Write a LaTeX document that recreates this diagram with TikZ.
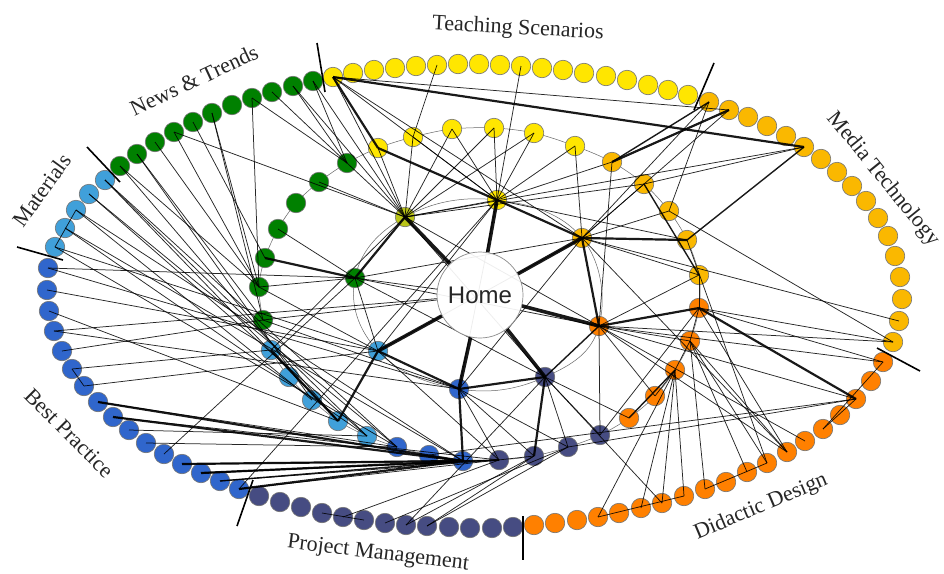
\documentclass[tikz,border=0pt]{standalone}
\usepackage{fontspec}
\setmainfont{Liberation Serif}
\newfontfamily\homefont{Liberation Sans}
\definecolor{cT}{RGB}{255,230,0}
\definecolor{cTo}{RGB}{186,196,24}
\definecolor{cM}{RGB}{250,184,0}
\definecolor{cD}{RGB}{255,128,0}
\definecolor{cP}{RGB}{70,76,130}
\definecolor{cB}{RGB}{48,102,204}
\definecolor{cL}{RGB}{64,160,218}
\definecolor{cN}{RGB}{0,128,0}
\tikzset{
  onode/.style={circle, minimum size=19.5pt, inner sep=0pt, draw=black!55, line width=0.6pt},
  lnk/.style={line width=0.75pt, black, opacity=0.85},
  lnkm/.style={line width=1.4pt, black, opacity=0.9},
  lnkb/.style={line width=2.2pt, black, opacity=0.9},
  lnkh/.style={line width=3.6pt, black, opacity=0.9},
  divider/.style={line width=1.6pt, black},
  ringline/.style={line width=0.5pt, black!60},
  lab/.style={font=\fontsize{22}{26}\selectfont, text=black!85, inner sep=0pt},
}
\begin{document}
\begin{tikzpicture}[x=1pt,y=-1pt]
\useasboundingbox (0,0) rectangle (944,573);
\fill[white] (0,0) rectangle (944,573);

% ---------- outer ring ----------
\foreach \i/\x/\y in {1/333/77,2/353/73,3/374/70,4/395/68,5/416/66,6/437/65,7/458/64,8/479/64,9/500/65,10/521/66,11/542/68,12/563/70,13/584/73,14/606/76,15/627/80,16/648/85,17/668/90,18/688/95}
  \node[onode, fill=cT] (T\i) at (\x,\y) {};
\foreach \i/\x/\y in {1/709/102,2/729/110,3/748/117,4/767/126,5/786/136,6/804/147,7/821/159,8/837/172,9/852/186,10/866/201,11/878/218,12/888/236,13/895/256,14/900/277,15/902/299,16/899/321,17/893/342}
  \node[onode, fill=cM] (M\i) at (\x,\y) {};
\foreach \i/\x/\y in {1/883/362,2/871/381,3/856/399,4/840/415,5/823/429,6/805/441,7/787/452,8/767/463,9/747/472,10/726/482,11/705/489,12/684/496,13/662/503,14/641/508,15/619/513,16/598/517,17/577/520,18/555/523,19/534/525}
  \node[onode, fill=cD] (D\i) at (\x,\y) {};
\foreach \i/\x/\y in {1/513/527,2/492/528,3/470/528,4/449/527,5/427/526,6/406/525,7/385/523,8/364/520,9/343/517,10/322/513,11/301/507,12/280/502,13/259/496}
  \node[onode, fill=cP] (P\i) at (\x,\y) {};
\foreach \i/\x/\y in {1/239/489,2/220/481,3/201/473,4/182/464,5/164/454,6/146/443,7/129/430,8/113/417,9/98/402,10/84/386,11/72/369,12/62/351,13/54/331,14/49/311,15/47/290,16/48/268}
  \node[onode, fill=cB] (B\i) at (\x,\y) {};
\foreach \i/\x/\y in {1/55/247,2/65/228,3/76/210,4/89/194,5/105/180}
  \node[onode, fill=cL] (L\i) at (\x,\y) {};
\foreach \i/\x/\y in {1/120/166,2/137/154,3/155/142,4/174/132,5/193/122,6/212/113,7/232/105,8/252/98,9/272/92,10/293/86,11/313/81}
  \node[onode, fill=cN] (N\i) at (\x,\y) {};

% ---------- inner ring ----------
\foreach \i/\x/\y in {1/378/148,2/413/137,3/452/129,4/494/128,5/534/133,6/575/146}
  \coordinate (t\i) at (\x,\y);
\foreach \i/\x/\y in {1/612/162,2/644/184,3/669/211,4/687/240,5/699/275}
  \coordinate (m\i) at (\x,\y);
\foreach \i/\x/\y in {1/699/308,2/690/341,3/675/370,4/655/396,5/629/418}
  \coordinate (d\i) at (\x,\y);
\foreach \i/\x/\y in {1/600/435,2/568/447,3/534/456,4/499/460}
  \coordinate (p\i) at (\x,\y);
\foreach \i/\x/\y in {1/463/461,2/429/455,3/397/447}
  \coordinate (b\i) at (\x,\y);
\foreach \i/\x/\y in {1/367/436,2/338/421,3/312/400,4/289/377,5/271/350}
  \coordinate (l\i) at (\x,\y);
\foreach \i/\x/\y in {1/263/320,2/259/287,3/265/258,4/278/229,5/296/203,6/319/182,7/347/163}
  \coordinate (n\i) at (\x,\y);
% hubs
\coordinate (h1) at (405,217);
\coordinate (h2) at (497,200);
\coordinate (h3) at (582,238);
\coordinate (h4) at (599,326);
\coordinate (h5) at (545,377);
\coordinate (h6) at (459,389);
\coordinate (h7) at (378,351);
\coordinate (h8) at (355,278);

\draw[ringline] plot[smooth cycle, tension=0.55] coordinates {(t1) (t2) (t3) (t4) (t5) (t6) (m1) (m2) (m3) (m4) (m5) (d1) (d2) (d3) (d4) (d5) (p1) (p2) (p3) (p4) (b1) (b2) (b3) (l1) (l2) (l3) (l4) (l5) (n1) (n2) (n3) (n4) (n5) (n6) (n7)};
\draw[ringline] plot[smooth cycle, tension=0.7] coordinates {(h1) (h2) (h3) (h4) (h5) (h6) (h7) (h8)};

\foreach \i in {1,...,6} \node[onode, fill=cT] (tn\i) at (t\i) {};
\foreach \i in {1,...,5} \node[onode, fill=cM] (mn\i) at (m\i) {};
\foreach \i in {1,...,5} \node[onode, fill=cD] (dn\i) at (d\i) {};
\foreach \i in {1,...,4} \node[onode, fill=cP] (pn\i) at (p\i) {};
\foreach \i in {1,...,3} \node[onode, fill=cB] (bn\i) at (b\i) {};
\foreach \i in {1,...,5} \node[onode, fill=cL] (ln\i) at (l\i) {};
\foreach \i in {1,...,7} \node[onode, fill=cN] (nn\i) at (n\i) {};
\node[onode, fill=cTo] (hub1) at (h1) {};
\node[onode, fill=cT] (hub2) at (h2) {};
\node[onode, fill=cM] (hub3) at (h3) {};
\node[onode, fill=cD] (hub4) at (h4) {};
\node[onode, fill=cP] (hub5) at (h5) {};
\node[onode, fill=cB] (hub6) at (h6) {};
\node[onode, fill=cL] (hub7) at (h7) {};
\node[onode, fill=cN] (hub8) at (h8) {};

\node[circle, minimum size=86pt, inner sep=0pt] (home) at (480,295) {};

% ---------- connectors ----------
\foreach \a/\b in {T1/h1,T1/h2,T1/h3,T1/M2,T6/t2,T10/h2,t1/h1,t2/h2,t2/h1,t3/h1,t3/h2,t4/h2,t4/h1,t5/h1,t5/h2,t6/h2,t6/h3,
  M1/m3,M1/h3,M2/h3,M6/h1,M6/m2,m1/h4,m1/h2,m2/h3,m2/h1,m3/M17,m3/h3,m4/h2,m5/h3,m5/h4,m5/d1,M17/d1,M17/h4,m4/D8,h3/D7,M16/h3,
  D1/D5,D1/d1,D1/h4,D3/h4,D3/p2,D3/b2,D7/d1,D7/d2,D7/h4,D8/d2,D8/D11,D11/d2,D12/d3,D13/d3,D13/h5,D14/d3,D16/d3,D16/D12,D5/D3,d1/d2,d2/d3,d3/d4,d2/h4,d1/p1,d4/h4,d5/h5,D9/d2,D6/h4,
  P8/P10,P6/p3,P5/p3,P5/p2,P9/p4,P6/h5,p1/h5,p1/h4,p2/h5,p4/h6,p4/b1,p3/h6,P7/p2,
  B1/h2,B1/p3,B2/p4,B5/h8,B10/B11,B10/h7,B12/n1,B16/h8,B16/h6,B7/l1,B6/b3,B11/l5,B9/b3,B8/p4,B14/l2,B4/p4,B15/h7,B13/h6,
  L1/L3,L1/b3,L2/l1,L3/l3,L4/b3,L5/l2,L5/b3,L4/l1,L2/b1,L5/l1,L3/b1,L1/h7,
  N1/n2,N3/n2,N4/n2,N4/h1,N6/n2,N6/n1,N8/n2,N8/n7,N10/n7,N11/n7,N10/h1,N11/h1,N9/n7,N1/l2,N2/l3,N5/n3,N2/n1,
  n7/h1,n2/h8,n2/h7,l5/h1,n4/h8,n6/h1,n1/h6,
  h1/h2,h1/h4,h7/h3,h2/h7,h8/h5,h6/h3,h1/h5,h8/h4,h8/h7,h7/p4,h6/p2,h2/h6,h8/h3}
  \draw[lnk] (\a.center) -- (\b.center);
\foreach \a/\b in {M6/m4,m2/m5,B2/b1,B3/p4,d3/d5,M1/m1,h4/h5}
  \draw[lnkm] (\a.center) -- (\b.center);
\foreach \a/\b in {T1/M6,T1/t1,t1/h2,h2/h3,M2/m1,m4/h3,h3/h4,h4/d1,d1/D3,h5/p3,h5/h6,h6/b1,h7/h6,h7/l2,l5/l2,n3/h8,h1/h8,B9/b1,B8/b1,B4/b1,B3/b1,B1/b1}
  \draw[lnkb] (\a.center) -- (\b.center);
\foreach \a in {h1,h2,h3,h4,h5,h6,h7}
  \draw[lnkh] (\a.center) -- (home);
\foreach \a in {B13,n1,h8}
  \draw[lnk] (\a.center) -- (home);

\node[circle, minimum size=86pt, inner sep=0pt, draw=black!45, line width=0.7pt, fill=white, fill opacity=0.92, text opacity=1, text=black!85, font=\homefont\fontsize{24}{28}\selectfont] (homevis) at (home.center) {Home};

% ---------- dividers ----------
\coordinate (v1a) at (63,260);  \coordinate (v1b) at (17,247);
\coordinate (v2a) at (120,182); \coordinate (v2b) at (87,147);
\coordinate (v3a) at (325,92);  \coordinate (v3b) at (317,43);
\coordinate (v4a) at (694,110); \coordinate (v4b) at (714,63);
\coordinate (v5a) at (877,348); \coordinate (v5b) at (920,371);
\coordinate (v6a) at (523,516); \coordinate (v6b) at (523,560);
\coordinate (v7a) at (253,480); \coordinate (v7b) at (237,526);
\foreach \k in {1,...,7} \draw[divider] (v\k a) -- (v\k b);

% ---------- labels ----------
\node[lab, rotate=-3] (labT) at (518,29) {Teaching Scenarios};
\node[lab, rotate=25] (labN) at (194,80) {News \& Trends};
\node[lab, rotate=54] (labL) at (42,190) {Materials};
\node[lab, rotate=-51] (labM) at (883,179) {Media Technology};
\node[lab, rotate=-45] (labB) at (69,433) {Best Practice};
\node[lab, rotate=-7] (labP) at (378,554) {Project Management};
\node[lab, rotate=23] (labD) at (761,507) {Didactic Design};
\end{tikzpicture}
\end{document}
